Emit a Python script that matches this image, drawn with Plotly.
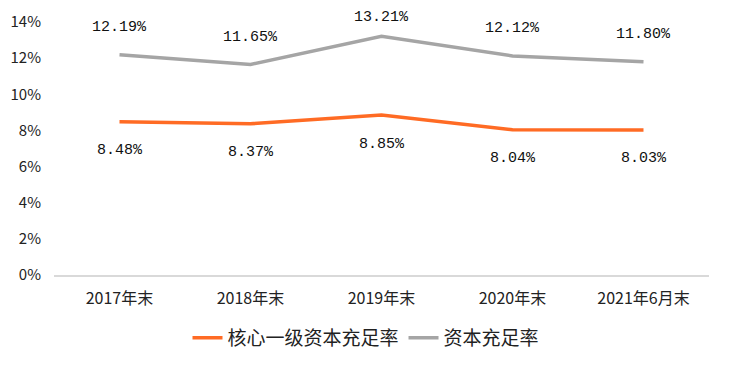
import plotly.graph_objects as go

categories = ["2017年末", "2018年末", "2019年末", "2020年末", "2021年6月末"]
core_tier1 = [8.48, 8.37, 8.85, 8.04, 8.03]
capital_ratio = [12.19, 11.65, 13.21, 12.12, 11.80]
y_ticks = [0, 2, 4, 6, 8, 10, 12, 14]
y_tick_labels = [f"{v}%" for v in y_ticks]

ORANGE = "#FF6B24"
GREY = "#A5A5A5"
FONT = "Noto Sans CJK SC"
W, H = 732, 370
ML, MR, MT, MB = 54, 23, 22, 95
YMAX = 14
plot_h = H - MT - MB

fig = go.Figure()
fig.add_trace(go.Scatter(x=categories, y=core_tier1, mode="lines", name="核心一级资本充足率",
                         line=dict(color=ORANGE, width=3.5)))
fig.add_trace(go.Scatter(x=categories, y=capital_ratio, mode="lines", name="资本充足率",
                         line=dict(color=GREY, width=3.5)))

lab_font = dict(family="Liberation Mono", size=15, color="#111")
for c, v in zip(categories, capital_ratio):
    py = MT + (YMAX - v) / YMAX * plot_h
    shift = min(27, py - 17)
    fig.add_annotation(x=c, y=v, text=f"{v:.2f}%", showarrow=False, yshift=shift, font=lab_font)
for c, v in zip(categories, core_tier1):
    fig.add_annotation(x=c, y=v, text=f"{v:.2f}%", showarrow=False, yshift=-29, font=lab_font)

fig.update_layout(
    width=W, height=H,
    margin=dict(l=ML, r=MR, t=MT, b=MB, autoexpand=False),
    paper_bgcolor="white", plot_bgcolor="white",
    font=dict(family=FONT, size=14, color="#222"),
    showlegend=True,
    legend=dict(orientation="h", x=0.5, xanchor="center", xref="container",
                y=1 - 338 / H, yanchor="middle", yref="container",
                font=dict(size=19), tracegroupgap=0),
    xaxis=dict(type="category", showgrid=False, showline=True, linecolor="#D9D9D9",
               linewidth=2, ticks="", tickfont=dict(size=16), range=[-0.5, 4.5],
               ticklabelstandoff=8),
    yaxis=dict(range=[0, YMAX], tickvals=y_ticks, ticktext=y_tick_labels, showgrid=False,
               zeroline=False, showline=False, ticks="", ticklabelstandoff=12,
               tickfont=dict(size=15)),
)

fig.write_html("out.html")
